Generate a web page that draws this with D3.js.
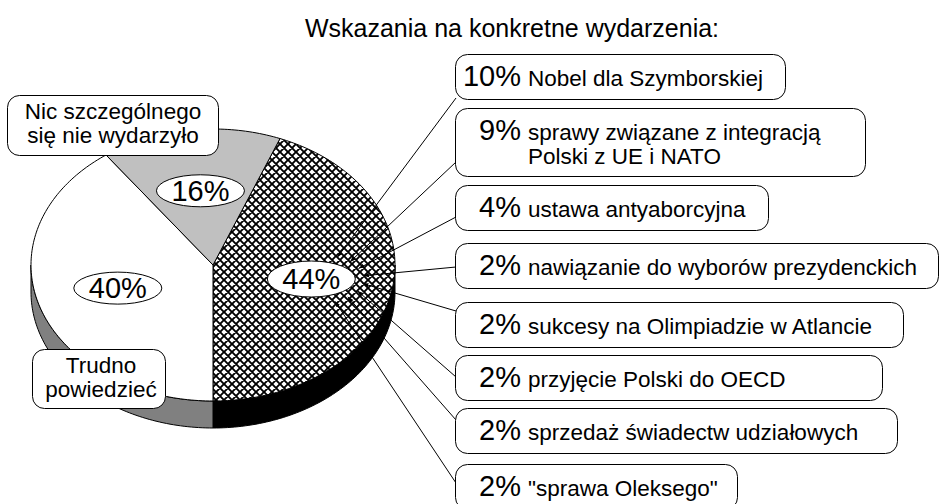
<!DOCTYPE html>
<html>
<head>
<meta charset="utf-8">
<script src="https://cdn.jsdelivr.net/npm/d3@7"></script>
<style>
  body { margin: 0; background: #fff; }
  svg { display: block; font-family: "Liberation Sans", Arial, sans-serif; }
</style>
</head>
<body>
<div id="chart"></div>
<script>
// data
const title = 'Wskazania na konkretne wydarzenia:';
const sliceValues = [44, 40, 16];
const sliceLabelLines = [null, ['Trudno', 'powiedzieć'], ['Nic szczególnego', 'się nie wydarzyło']];
const eventValues = [10, 9, 4, 2, 2, 2, 2, 2];
const eventLabels = [
  ['Nobel dla Szymborskiej'],
  ['sprawy związane z integracją', 'Polski z UE i NATO'],
  ['ustawa antyaborcyjna'],
  ['nawiązanie do wyborów prezydenckich'],
  ['sukcesy na Olimpiadzie w Atlancie'],
  ['przyjęcie Polski do OECD'],
  ['sprzedaż świadectw udziałowych'],
  ['"sprawa Oleksego"']
];

// layout
const width = 939, height = 504;
const cx = 213, cy = 265, rx = 182, ry = 136, depth = 27;
const topFill = ['url(#hatch)', '#ffffff', '#c0c0c0'];
const sideFill = ['#000000', '#808080', '#a0a0a0'];
const boxX = 455;
const boxTop = [54, 108, 185, 243, 302, 355, 408, 464];
const boxRight = [785, 865, 768, 938, 903, 882, 897, 737];
const leaderOff = [44, 54, 32, 24, 9, 22, 12, 19];
const sideBoxes = [null, { x: 32, y: 349, w: 133, h: 59, tx: 101 }, { x: 7, y: 95, w: 211, h: 60, tx: 113 }];

const svg = d3.select('#chart').append('svg')
  .attr('width', width)
  .attr('height', height);

const defs = svg.append('defs');
const hatch = defs.append('pattern')
  .attr('id', 'hatch')
  .attr('patternUnits', 'userSpaceOnUse')
  .attr('width', 8).attr('height', 8);
hatch.append('rect').attr('width', 8).attr('height', 8).attr('fill', '#fff');
hatch.append('path')
  .attr('d', 'M-2,2L2,-2M0,8L8,0M6,10L10,6M-2,6L2,10M0,0L8,8M6,-2L10,2')
  .attr('stroke', '#000').attr('stroke-width', 1.9);

defs.append('marker')
  .attr('id', 'arrow')
  .attr('viewBox', '0 0 10 10')
  .attr('refX', 10).attr('refY', 5)
  .attr('markerWidth', 6).attr('markerHeight', 6)
  .attr('orient', 'auto')
  .append('path').attr('d', 'M0,1.5L10,5L0,8.5Z').attr('fill', '#000');

// title
svg.append('text')
  .attr('x', 512).attr('y', 37)
  .attr('text-anchor', 'middle')
  .attr('font-size', 25)
  .text(title);

// pie
const total = d3.sum(sliceValues);
const start = Math.PI - sliceValues[0] / total * 2 * Math.PI;
const pie = d3.pie().sort(null).startAngle(start).endAngle(start + 2 * Math.PI);
const arcs = pie(sliceValues);

const px = a => cx + rx * Math.sin(a);
const py = a => cy - ry * Math.cos(a);
function rim(a0, a1, dy) {
  const n = Math.max(2, Math.ceil(Math.abs(a1 - a0) / 0.02));
  return d3.range(n + 1).map(i => {
    const a = a0 + (a1 - a0) * i / n;
    return [px(a), py(a) + dy];
  });
}
const line = d3.line();

const pieG = svg.append('g');

// side faces (front half only)
arcs.forEach((d, i) => {
  [0, 2 * Math.PI].forEach(off => {
    const s = Math.max(d.startAngle, Math.PI / 2 + off);
    const e = Math.min(d.endAngle, 1.5 * Math.PI + off);
    if (e <= s) return;
    const pts = rim(s, e, 0).concat(rim(e, s, depth));
    pieG.append('path')
      .attr('d', line(pts) + 'Z')
      .attr('fill', sideFill[i])
      .attr('stroke', '#000')
      .attr('stroke-width', 1)
      .attr('stroke-linejoin', 'round');
  });
});

// top faces
arcs.forEach((d, i) => {
  const pts = [[cx, cy]].concat(rim(d.startAngle, d.endAngle, 0));
  pieG.append('path')
    .attr('d', line(pts) + 'Z')
    .attr('fill', topFill[i])
    .attr('stroke', '#000')
    .attr('stroke-width', 1)
    .attr('stroke-linejoin', 'round');
});

// slice label positions
const labelPos = arcs.map(d => {
  const a = (d.startAngle + d.endAngle) / 2;
  return [cx + 0.55 * rx * Math.sin(a), cy - 0.55 * ry * Math.cos(a)];
});

// leader lines to event boxes
const main = labelPos[0];
const t0 = -60 * Math.PI / 180, t1 = 63 * Math.PI / 180;
eventValues.forEach((v, i) => {
  const t = t0 + (t1 - t0) * i / (eventValues.length - 1);
  const tip = [main[0] + 52 * Math.cos(t), main[1] + 25 * Math.sin(t)];
  svg.append('line')
    .attr('x1', boxX + 1).attr('y1', boxTop[i] + leaderOff[i])
    .attr('x2', tip[0]).attr('y2', tip[1])
    .attr('stroke', '#000').attr('stroke-width', 1)
    .attr('marker-end', 'url(#arrow)');
});

// percentage ellipses
arcs.forEach((d, i) => {
  const g = svg.append('g').attr('transform', `translate(${labelPos[i][0]},${labelPos[i][1]})`);
  g.append('ellipse')
    .attr('rx', 44).attr('ry', i === 0 ? 18 : 16)
    .attr('fill', '#fff').attr('stroke', '#000').attr('stroke-width', 1);
  g.append('text')
    .attr('y', 10)
    .attr('text-anchor', 'middle')
    .attr('font-size', 29)
    .text(d.data + '%');
});

// callout boxes for the other slices
sideBoxes.forEach((b, i) => {
  if (!b) return;
  svg.append('rect')
    .attr('x', b.x + 0.5).attr('y', b.y + 0.5)
    .attr('width', b.w).attr('height', b.h)
    .attr('rx', 12)
    .attr('fill', '#fff').attr('stroke', '#000').attr('stroke-width', 1);
  sliceLabelLines[i].forEach((t, j) => {
    svg.append('text')
      .attr('x', b.tx).attr('y', b.y + 24 + 24 * j)
      .attr('text-anchor', 'middle')
      .attr('font-size', 22.5)
      .text(t);
  });
});

// event boxes
eventValues.forEach((v, i) => {
  const lines = eventLabels[i];
  const top = boxTop[i];
  const h = 45 + 23 * (lines.length - 1);
  const g = svg.append('g');
  g.append('rect')
    .attr('x', boxX + 0.5).attr('y', top + 0.5)
    .attr('width', boxRight[i] - boxX).attr('height', h)
    .attr('rx', 12)
    .attr('fill', '#fff').attr('stroke', '#000').attr('stroke-width', 1);
  g.append('text')
    .attr('x', 521).attr('y', top + 32)
    .attr('text-anchor', 'end')
    .attr('font-size', 29)
    .text(v + '%');
  lines.forEach((t, j) => {
    g.append('text')
      .attr('x', 528).attr('y', top + 32 + 24 * j)
      .attr('font-size', 22.5)
      .text(t);
  });
});
</script>
</body>
</html>
